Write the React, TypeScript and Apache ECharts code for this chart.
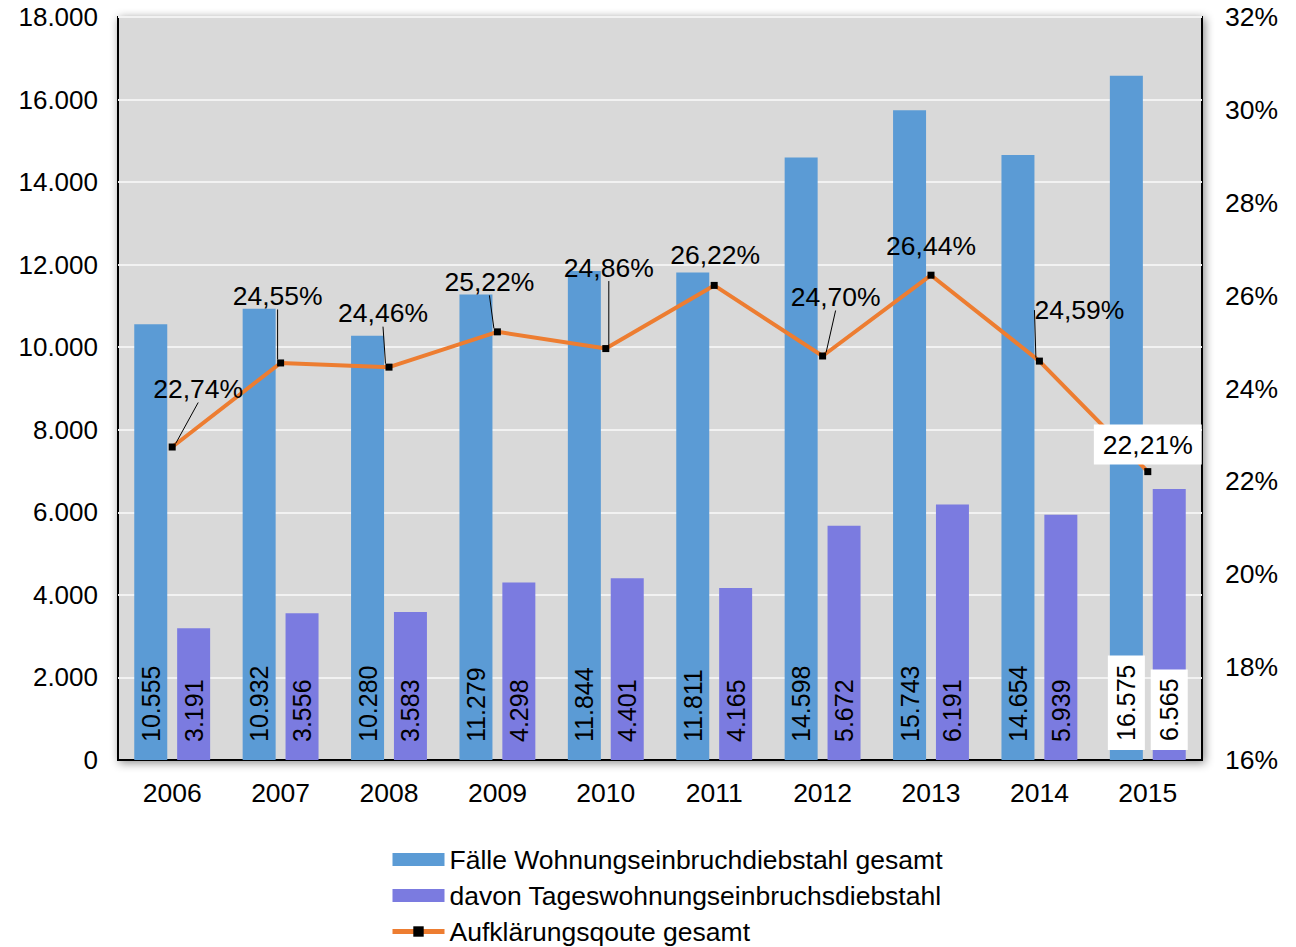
import React, { useEffect, useRef } from "react";
import * as echarts from "echarts";

const categories = ["2006", "2007", "2008", "2009", "2010", "2011", "2012", "2013", "2014", "2015"];
const faelleGesamt = [10555, 10932, 10280, 11279, 11844, 11811, 14598, 15743, 14654, 16575];
const tagesWohnung = [3191, 3556, 3583, 4298, 4401, 4165, 5672, 6191, 5939, 6565];
const aufklaerung = [22.74, 24.55, 24.46, 25.22, 24.86, 26.22, 24.7, 26.44, 24.59, 22.21];
const leftTicks = { min: 0, max: 18000, interval: 2000 };
const rightTicks = { min: 16, max: 32, interval: 2 };
const seriesNames = [
  "Fälle Wohnungseinbruchdiebstahl gesamt",
  "davon Tageswohnungseinbruchsdiebstahl",
  "Aufklärungsqoute gesamt",
];

// label displacement (dx, dy) for line labels, and whether a leader line is drawn
const lineLabelShift = [
  [26, -58], [-3, -67], [-6, -54], [-8, -50], [3, -81],
  [1, -30], [13, -59], [0, -29], [40, -51], [0, -27],
];
const lineLabelLeader = [true, true, true, true, true, false, true, false, true, false];

const FONT = "Liberation Sans, Arial, sans-serif";

const fmtThousands = (v: number) => {
  const s = Math.round(v).toString();
  return s.replace(/\B(?=(\d{3})+(?!\d))/g, ".");
};
const fmtPct = (v: number) => v.toFixed(2).replace(".", ",") + "%";

export default function App() {
  const ref = useRef<HTMLDivElement>(null);
  useEffect(() => {
    if (!ref.current) return;
    const chart = echarts.init(ref.current, undefined, { renderer: "svg" });

    const barLabel = {
      show: true,
      position: "insideBottom",
      rotate: 90,
      align: "left",
      verticalAlign: "middle",
      distance: 18,
      fontFamily: FONT,
      fontSize: 25,
      color: "#000",
      formatter: (p: any) => fmtThousands(p.value),
    };
    const lastLabel = {
      backgroundColor: "#fff",
      padding: [6, 9, 6, 9],
      distance: 10,
    };

    const barData = (arr: number[]) =>
      arr.map((v, i) =>
        i === arr.length - 1 ? { value: v, label: lastLabel } : { value: v }
      );

    const lineData = aufklaerung.map((v, i) => {
      const item: any = { value: v };
      if (!lineLabelLeader[i]) item.labelLine = { show: false };
      if (i === aufklaerung.length - 1)
        item.label = { backgroundColor: "#fff", padding: [7, 9, 6, 9] };
      return item;
    });

    chart.setOption({
      animation: false,
      backgroundColor: "#fff",
      textStyle: { fontFamily: FONT },
      grid: {
        left: 118,
        right: 94,
        top: 17,
        bottom: 187,
        show: true,
        backgroundColor: "#d9d9d9",
        borderColor: "#000",
        borderWidth: 2,
        shadowColor: "rgba(0,0,0,0.45)",
        shadowBlur: 10,
        shadowOffsetX: 2,
        shadowOffsetY: 2,
      },
      legend: {
        orient: "vertical",
        left: 390,
        top: 846,
        height: 120,
        padding: 0,
        itemWidth: 52,
        itemHeight: 13,
        itemGap: 9,
        textStyle: { fontFamily: FONT, fontSize: 26.5, color: "#000" },
        data: [
          { name: seriesNames[0], icon: "rect" },
          { name: seriesNames[1], icon: "rect" },
          { name: seriesNames[2], lineStyle: { width: 5, color: "#ed7d31" } },
        ],
      },
      xAxis: {
        type: "category",
        data: categories,
        axisLine: { show: true, lineStyle: { color: "#000", width: 2 } },
        axisTick: { show: false },
        axisLabel: { fontFamily: FONT, fontSize: 26.5, color: "#000", margin: 19 },
      },
      yAxis: [
        {
          type: "value",
          min: leftTicks.min,
          max: leftTicks.max,
          interval: leftTicks.interval,
          axisLine: { show: false },
          axisTick: { show: false },
          splitLine: { show: true, lineStyle: { color: "#f2f2f2", width: 2 } },
          axisLabel: {
            fontFamily: FONT,
            fontSize: 26,
            color: "#000",
            margin: 20,
            formatter: (v: number) => fmtThousands(v),
          },
        },
        {
          type: "value",
          min: rightTicks.min,
          max: rightTicks.max,
          interval: rightTicks.interval,
          axisLine: { show: false },
          axisTick: { show: false },
          splitLine: { show: false },
          axisLabel: {
            fontFamily: FONT,
            fontSize: 26.5,
            color: "#000",
            margin: 23,
            formatter: (v: number) => v + "%",
          },
        },
      ],
      series: [
        {
          name: seriesNames[0],
          type: "bar",
          data: barData(faelleGesamt),
          itemStyle: { color: "#5b9bd5" },
          barGap: "30%",
          barCategoryGap: "30%",
          label: barLabel,
          z: 2,
        },
        {
          name: seriesNames[1],
          type: "bar",
          data: barData(tagesWohnung),
          itemStyle: { color: "#7b7be0" },
          label: barLabel,
          z: 2,
        },
        {
          name: seriesNames[2],
          type: "line",
          yAxisIndex: 1,
          data: lineData,
          symbol: "rect",
          symbolSize: 7,
          showAllSymbol: true,
          itemStyle: { color: "#000" },
          lineStyle: { color: "#ed7d31", width: 4 },
          z: 5,
          label: {
            show: true,
            position: "inside",
            fontFamily: FONT,
            fontSize: 26.5,
            color: "#000",
            formatter: (p: any) => fmtPct(p.value),
          },
          labelLine: { show: true, lineStyle: { color: "#000", width: 1 } },
          labelLayout: (p: any) => ({
            dx: lineLabelShift[p.dataIndex][0],
            dy: lineLabelShift[p.dataIndex][1],
          }),
        },
      ],
    });
    return () => chart.dispose();
  }, []);
  return (
    <div
      ref={ref}
      style={{ position: "fixed", left: 0, top: 0, width: 1296, height: 947 }}
    />
  );
}
